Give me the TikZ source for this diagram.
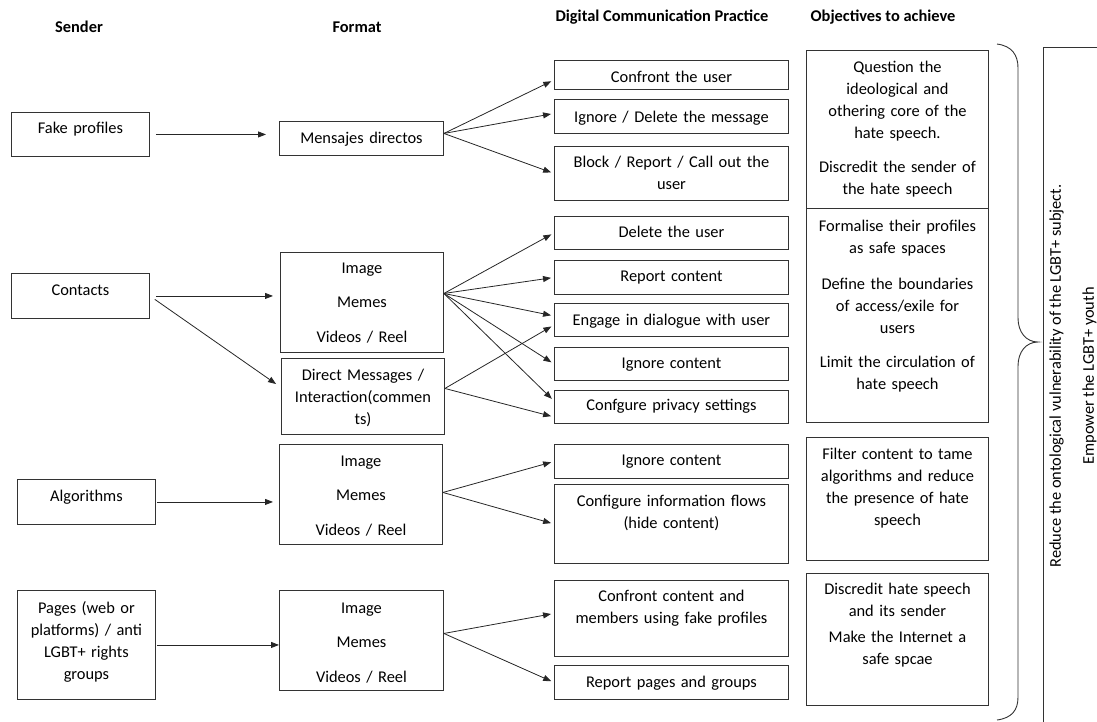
\documentclass[tikz,border=0pt]{standalone}
\usepackage{fontspec}
\setmainfont{Carlito}
\usetikzlibrary{arrows.meta}
\newcommand\bodyfont{\fontsize{16.4}{22}\selectfont}
\newcommand\headfont{\fontsize{16.4}{20}\selectfont\bfseries}
\tikzset{
  box/.style n args={3}{draw=black!80, line width=0.9pt, anchor=north west,
    inner sep=0pt, align=center, font=\bodyfont,
    text width=#1pt, text height=#2pt, text depth=#3pt},
  head/.style={font=\headfont},
  arr/.style={-{Triangle[length=8pt,width=6pt]}, line width=0.8pt, draw=black!85, shorten >=3pt},
}
\begin{document}
\begin{tikzpicture}[x=1pt, y=-1pt]
    \useasboundingbox (0,0) rectangle (1097,721);

    % column heads
    \node[head] (hsender) at (79,27) {Sender};
    \node[head] (hformat) at (357,27) {Format};
    \node[head] (hpractice) at (662,17) {Digital Communication Practice};
    \node[head] (hobjective) at (883,17) {Objectives to achieve};

    % senders
    \node[box={138}{21}{23}] (fake) at (11,112) {Fake profiles};
    \node[box={138}{22}{23}] (contacts) at (11,273) {Contacts};
    \node[box={138}{22}{23}] (algo) at (17,479) {Algorithms};
    \node[box={138}{23}{86}] (pages) at (17,590) {Pages (web or\\platforms) / anti\\LGBT+ rights\\groups};

    % formats
    \node[box={164}{22}{12}] (msg) at (279,121) {Mensajes directos};
    \node[box={163}{21}{79}] (img1) at (280,252) {Image\\[12.5pt]Memes\\[12.5pt]Videos / Reel};
    \node[box={163}{22}{54}] (dm) at (281,358) {Direct Messages /\\Interaction(commen\\ts)};
    \node[box={163}{22}{78}] (img2) at (279,444) {Image\\[12.5pt]Memes\\[12.5pt]Videos / Reel};
    \node[box={164}{23}{77}] (img3) at (279,590) {Image\\[12.5pt]Memes\\[12.5pt]Videos / Reel};

    % practices
    \node[box={234}{22}{7}] (p1) at (554,60) {Confront the user};
    \node[box={234}{23}{11}] (p2) at (554,99) {Ignore / Delete the message};
    \node[box={234}{21}{33}] (p3) at (554,146) {Block / Report / Call out the\\user};
    \node[box={234}{21}{12}] (p4) at (554,216) {Delete the user};
    \node[box={234}{21}{13}] (p5) at (554,260) {Report content};
    \node[box={234}{22}{11}] (p6) at (554,303) {Engage in dialogue with user};
    \node[box={234}{21}{12}] (p7) at (554,347) {Ignore content};
    \node[box={234}{20}{13}] (p8) at (554,390) {Confgure privacy settings};
    \node[box={234}{21}{13}] (p9) at (554,444) {Ignore content};
    \node[box={234}{22}{57}] (p10) at (554,484) {Configure information flows\\(hide content)};
    \node[box={234}{21}{55}] (p11) at (554,580) {Confront content and\\members using fake profiles};
    \node[box={234}{22}{12}] (p12) at (554,665) {Report pages and groups};

    % objectives
    \node[box={182}{22}{136}] (o1) at (806,50) {Question the\\ideological and\\othering core of the\\hate speech.\\[12pt]Discredit the sender of\\the hate speech};
    \node[box={182}{23}{191}] (o2) at (806,208) {Formalise their profiles\\as safe spaces\\[14pt]Define the boundaries\\of access/exile for\\users\\[12pt]Limit the circulation of\\hate speech};
    \node[box={182}{22}{101}] (o3) at (806,437) {Filter content to tame\\algorithms and reduce\\the presence of hate\\speech};
    \node[box={182}{21}{111}] (o4) at (806,573) {Discredit hate speech\\and its sender\\[4pt]Make the Internet a\\safe spcae};

    % aims
    \draw[line width=0.9pt, draw=black!80] (997,44) .. controls (1012,46) and (1018,55) .. (1018,68)
        -- (1018,318) .. controls (1018,332) and (1026,342) .. (1038,342)
        .. controls (1026,342) and (1018,352) .. (1018,366)
        -- (1018,697) .. controls (1018,710) and (1012,718) .. (997,720);
    \node[draw=black!80, line width=0.9pt, anchor=north west, minimum width=100pt,
        minimum height=700pt] (frame) at (1043,47) {};
    \node[rotate=90, align=center, font=\bodyfont] (aims) at (1073,376)
        {Reduce the ontological vulnerability of the LGBT+ subject.\\[11pt]Empower the LGBT+ youth};

    % sender -> format
    \draw[arr, shorten <=6pt, shorten >=13pt] (fake.east) -- (fake.east -| msg.west);
    \draw[arr, shorten <=6pt, shorten >=7pt] (contacts.east) -- (contacts.east -| img1.west);
    \draw[arr, shorten <=6pt, shorten >=6pt] (contacts.east) -- ([yshift=9pt]dm.west);
    \draw[arr, shorten <=1pt, shorten >=6pt] (algo.east) -- (algo.east -| img2.west);
    \draw[arr, shorten <=1pt, shorten >=0pt] (pages.east) -- (pages.east -| img3.west);

    % format -> practice
    \draw[arr] ([yshift=5pt]msg.east) -- ([yshift=-5pt]p1.west);
    \draw[arr] ([yshift=5pt]msg.east) -- ([yshift=3pt]p2.west);
    \draw[arr] ([yshift=5pt]msg.east) -- (p3.west);
    \foreach \t in {p4,p5,p7}
        \draw[arr] ([yshift=9pt]img1.east) -- (\t.west);
    \draw[arr] ([yshift=9pt]img1.east) -- ([yshift=4pt]p6.west);
    \draw[arr] ([yshift=9pt]img1.east) -- ([yshift=6pt]p8.west);
    \draw[arr] ([yshift=8pt]dm.east) -- ([yshift=-5pt]p6.west);
    \draw[arr] ([yshift=8pt]dm.east) -- ([yshift=-10pt]p8.west);
    \draw[arr] ([yshift=2pt]img2.east) -- (p9.west);
    \draw[arr] ([yshift=2pt]img2.east) -- (p10.west);
    \draw[arr] ([yshift=7pt]img3.east) -- ([yshift=5pt]p11.west);
    \draw[arr] ([yshift=7pt]img3.east) -- (p12.west);
\end{tikzpicture}
\end{document}
